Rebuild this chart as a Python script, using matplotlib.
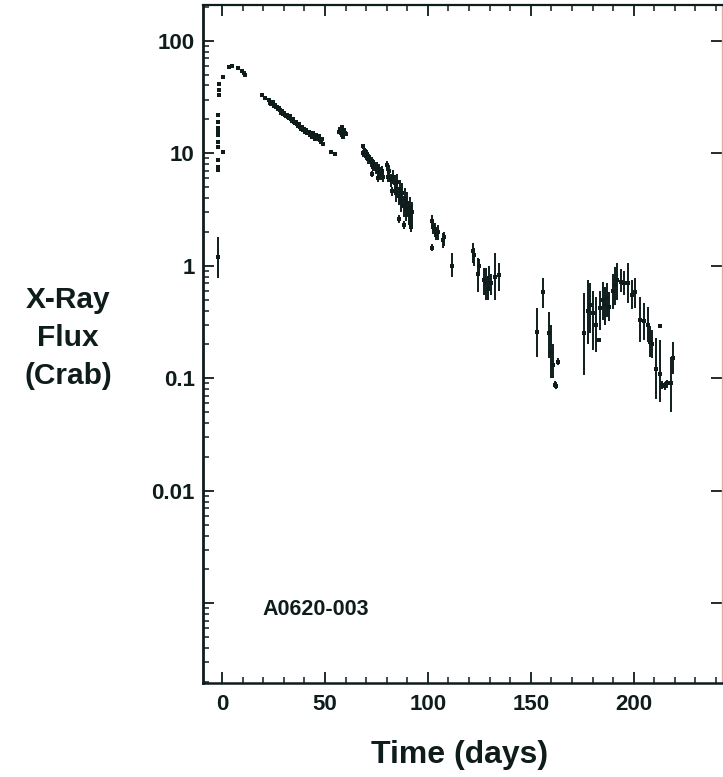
import matplotlib
matplotlib.use("Agg")
import matplotlib.pyplot as plt
import numpy as np
from matplotlib.ticker import LogLocator, NullFormatter, FixedLocator

plt.rcParams['font.family'] = ['Liberation Sans', 'DejaVu Sans']
plt.rcParams['font.weight'] = 'bold'

# ---- data: points without visible error bars ----
dot_time = [-2.0, -2.0, -2.0, -2.0, -2.0, -2.0, -2.0, -2.0, -2.0, -2.0,
            -1.3, -1.3, -1.3, 0.5, 0.5,
            3.4, 4.8, 7.8, 9.7, 10.7, 11.2, 19.4, 21.0,
            23.0, 23.5, 24.0, 24.5, 25.0, 25.5, 26.0, 26.5, 27.0, 27.5, 28.0, 28.5,
            29.0, 29.5, 30.0, 30.5, 31.0, 31.5, 32.0, 32.5, 33.0, 33.5, 34.0, 34.5,
            35.0, 35.5, 36.0, 36.5, 37.0, 37.5, 38.0, 38.5, 39.0, 39.5, 40.0, 40.5,
            41.0, 41.5, 42.0, 42.5, 43.0, 43.5, 44.0, 44.5, 45.0, 45.5, 46.0, 46.5,
            47.0, 47.5, 48.0, 48.5, 49.0, 53.0, 55.0,
            57.0, 57.5, 58.0, 58.5, 59.0, 59.5, 60.0, 58.2, 58.8,
            183.0, 212.6]
dot_flux = [22, 19, 16.9, 15.5, 14.6, 12.6, 11.4, 8.75, 7.6, 7.1,
            41, 36.6, 33, 48, 10.3,
            58, 59, 57, 54, 52, 50, 33, 31,
            29.5, 28, 27.5, 28.5, 26.5, 27, 25.5, 26, 24.5, 25, 24, 23,
            23.5, 22.5, 23, 22, 21.5, 22, 21, 20.5, 21.5, 20, 19.5, 20,
            19, 18.5, 19, 18, 17.5, 18, 17, 16.5, 17, 16, 16.5, 15.5,
            16, 15, 15.5, 14.5, 15, 14, 15, 14.5, 13.5, 14.5, 14, 13.5,
            14.2, 13, 12.5, 13.5, 12, 10.3, 9.9,
            15.5, 16.5, 15, 14.5, 16, 15.2, 14.8, 17, 13.8,
            0.22, 0.29]

# ---- data: points with error bars ----
bar_time = [-2.0,
            68.5, 68.5, 69.2, 69.8, 70.4, 71.0, 71.6, 72.2, 72.8, 73.4, 74.0, 74.6,
            75.2, 75.8, 76.4, 77.0, 77.6, 78.2, 73.0, 76.0,
            80.0, 80.5, 81.3, 82.0, 82.5, 83.2, 84.0, 84.5, 85.2, 85.8, 86.4, 87.0,
            87.6, 88.2, 88.8, 89.4, 90.0, 90.6, 91.2, 91.8, 92.4, 88.5, 92.0, 86.0,
            102.0, 102.6, 103.3, 104.0, 104.8, 102.0, 107.2, 108.0,
            111.6,
            122.0, 122.6, 124.2, 125.0, 127.5, 128.3, 129.0, 129.8, 130.5, 132.5, 134.5,
            153.0, 156.0, 158.8, 159.8, 160.8, 162.0, 162.3, 163.0,
            176.0, 178.0, 179.0, 180.0, 181.5, 183.5, 185.0, 186.0, 187.0, 188.0,
            190.0, 191.0, 192.0, 194.0, 195.5, 197.0, 199.0, 200.5, 203.0, 205.0,
            207.0, 208.0, 209.0, 211.0, 212.6, 214.0, 215.0, 216.0, 218.0, 219.0]
bar_flux = [1.2,
            11.5, 10.0, 10.5, 9.4, 9.8, 8.8, 9.2, 8.3, 8.6, 7.6, 8.0, 7.2,
            7.6, 6.8, 7.3, 6.5, 7.0, 6.2, 6.6, 6.0,
            7.8, 6.2, 7.0, 5.8, 4.6, 6.2, 5.4, 4.4, 5.6, 4.2, 4.8, 3.8,
            4.4, 3.4, 4.0, 3.2, 3.6, 2.9, 3.3, 2.8, 3.0, 2.3, 2.2, 2.6,
            2.5, 2.2, 2.1, 1.9, 2.0, 1.45, 1.7, 1.8,
            1.0,
            1.35, 1.25, 0.85, 1.0, 0.75, 0.7, 0.62, 0.78, 0.7, 0.8, 0.82,
            0.26, 0.58, 0.25, 0.17, 0.13, 0.088, 0.086, 0.14,
            0.25, 0.4, 0.45, 0.38, 0.3, 0.42, 0.5, 0.45, 0.52, 0.43,
            0.6, 0.68, 0.75, 0.72, 0.7, 0.7, 0.55, 0.58, 0.33, 0.32,
            0.3, 0.21, 0.2, 0.12, 0.11, 0.088, 0.085, 0.09, 0.09, 0.15]
bar_low = [0.78,
           10.8, 9.3, 9.8, 8.7, 9.0, 8.1, 8.5, 7.6, 7.9, 6.9, 7.3, 6.5,
           6.9, 6.1, 6.6, 5.8, 6.3, 5.5, 6.2, 5.6,
           7.0, 5.6, 6.2, 5.0, 4.2, 5.3, 4.4, 3.7, 4.6, 3.5, 3.8, 3.0,
           3.4, 2.7, 3.1, 2.5, 2.7, 2.3, 2.5, 2.1, 2.3, 2.1, 2.0, 2.4,
           2.2, 1.9, 1.8, 1.7, 1.7, 1.35, 1.45, 1.5,
           0.8,
           1.05, 1.0, 0.58, 0.85, 0.55, 0.5, 0.5, 0.6, 0.55, 0.5, 0.6,
           0.155, 0.42, 0.15, 0.1, 0.1, 0.082, 0.08, 0.13,
           0.107, 0.2, 0.25, 0.18, 0.17, 0.27, 0.33, 0.3, 0.35, 0.32,
           0.41, 0.45, 0.5, 0.58, 0.55, 0.47, 0.41, 0.42, 0.21, 0.22,
           0.21, 0.155, 0.15, 0.065, 0.062, 0.08, 0.078, 0.082, 0.05, 0.11]
bar_high = [1.8,
            12.2, 10.7, 11.2, 10.1, 10.6, 9.5, 9.9, 9.0, 9.3, 8.3, 8.7, 7.9,
            8.3, 7.5, 8.0, 7.2, 7.7, 6.9, 7.0, 6.4,
            8.6, 6.8, 7.8, 6.6, 5.0, 7.1, 6.4, 5.1, 6.6, 4.9, 5.8, 4.6,
            5.4, 4.1, 4.9, 3.9, 4.5, 3.5, 4.1, 3.5, 3.7, 2.5, 2.4, 2.8,
            2.8, 2.5, 2.4, 2.1, 2.3, 1.55, 1.95, 2.0,
            1.31,
            1.6, 1.45, 1.17, 1.15, 0.95, 0.95, 0.8, 1.0, 0.85, 1.3, 1.06,
            0.42, 0.78, 0.39, 0.3, 0.2, 0.094, 0.092, 0.15,
            0.575, 0.75, 0.7, 0.6, 0.53, 0.6, 0.72, 0.65, 0.7, 0.58,
            0.85, 0.98, 1.06, 0.93, 0.9, 1.06, 0.75, 0.78, 0.53, 0.47,
            0.43, 0.29, 0.27, 0.23, 0.22, 0.095, 0.092, 0.097, 0.155, 0.21]

x_ticks = [0, 50, 100, 150, 200]
y_ticks = [0.01, 0.1, 1, 10, 100]
y_ticklabels = ['0.01', '0.1', '1', '10', '100']
source_name = 'A0620-003'

ink = '#0f1c1c'

fig = plt.figure(figsize=(7.23, 7.77), dpi=100)
ax = fig.add_axes([0.281, 0.121, 0.717, 0.873])

bt = np.array(bar_time)
bf = np.array(bar_flux)
bl = np.array(bar_low)
bh = np.array(bar_high)
ax.errorbar(bt, bf, yerr=[bf - bl, bh - bf], fmt='s', ms=2.5, color=ink,
            ecolor=ink, elinewidth=1.4, capsize=0, mew=0)
ax.plot(dot_time, dot_flux, 's', ms=2.5, color=ink, mew=0)

ax.set_yscale('log')
ax.set_xlim(-9.2, 242.7)
ax.set_ylim(0.000196, 209)

ax.set_xticks(x_ticks)
ax.set_xticklabels([str(v) for v in x_ticks])
ax.xaxis.set_minor_locator(FixedLocator(np.arange(-10, 250, 10)))
ax.yaxis.set_major_locator(FixedLocator([0.001] + y_ticks))
ax.set_yticklabels([''] + y_ticklabels)
ax.yaxis.set_minor_locator(LogLocator(base=10, subs=np.arange(2, 10)))
ax.yaxis.set_minor_formatter(NullFormatter())

ax.tick_params(axis='both', which='major', direction='in', length=8, width=1.3,
               colors=ink, labelsize=16, labelcolor=ink)
ax.tick_params(axis='both', which='minor', direction='in', length=4, width=1.1,
               colors=ink)
ax.tick_params(axis='y', which='major', pad=6, right=True)
ax.tick_params(axis='y', which='minor', right=False)
ax.tick_params(axis='x', which='major', pad=8, top=True)
ax.tick_params(axis='x', which='minor', top=True)
for lab in ax.get_xticklabels() + ax.get_yticklabels():
    lab.set_fontweight('bold')

for side in ['left', 'bottom', 'top']:
    ax.spines[side].set_color(ink)
ax.spines['left'].set_linewidth(2.0)
ax.spines['bottom'].set_linewidth(1.8)
ax.spines['top'].set_linewidth(1.6)
ax.spines['right'].set_color('#e8a8a8')
ax.spines['right'].set_linewidth(1.0)

ax.text(0.217, 0.108, source_name, transform=ax.transAxes, fontsize=15.5,
        fontweight='bold', color=ink, ha='center', va='center')

fig.text(0.094, 0.565, 'X-Ray\nFlux\n(Crab)', fontsize=21.5, fontweight='bold',
         color=ink, ha='center', va='center', linespacing=1.45)
fig.text(0.636, 0.028, 'Time (days)', fontsize=23, fontweight='bold',
         color=ink, ha='center', va='center')

fig.savefig('out.png', dpi=100)
